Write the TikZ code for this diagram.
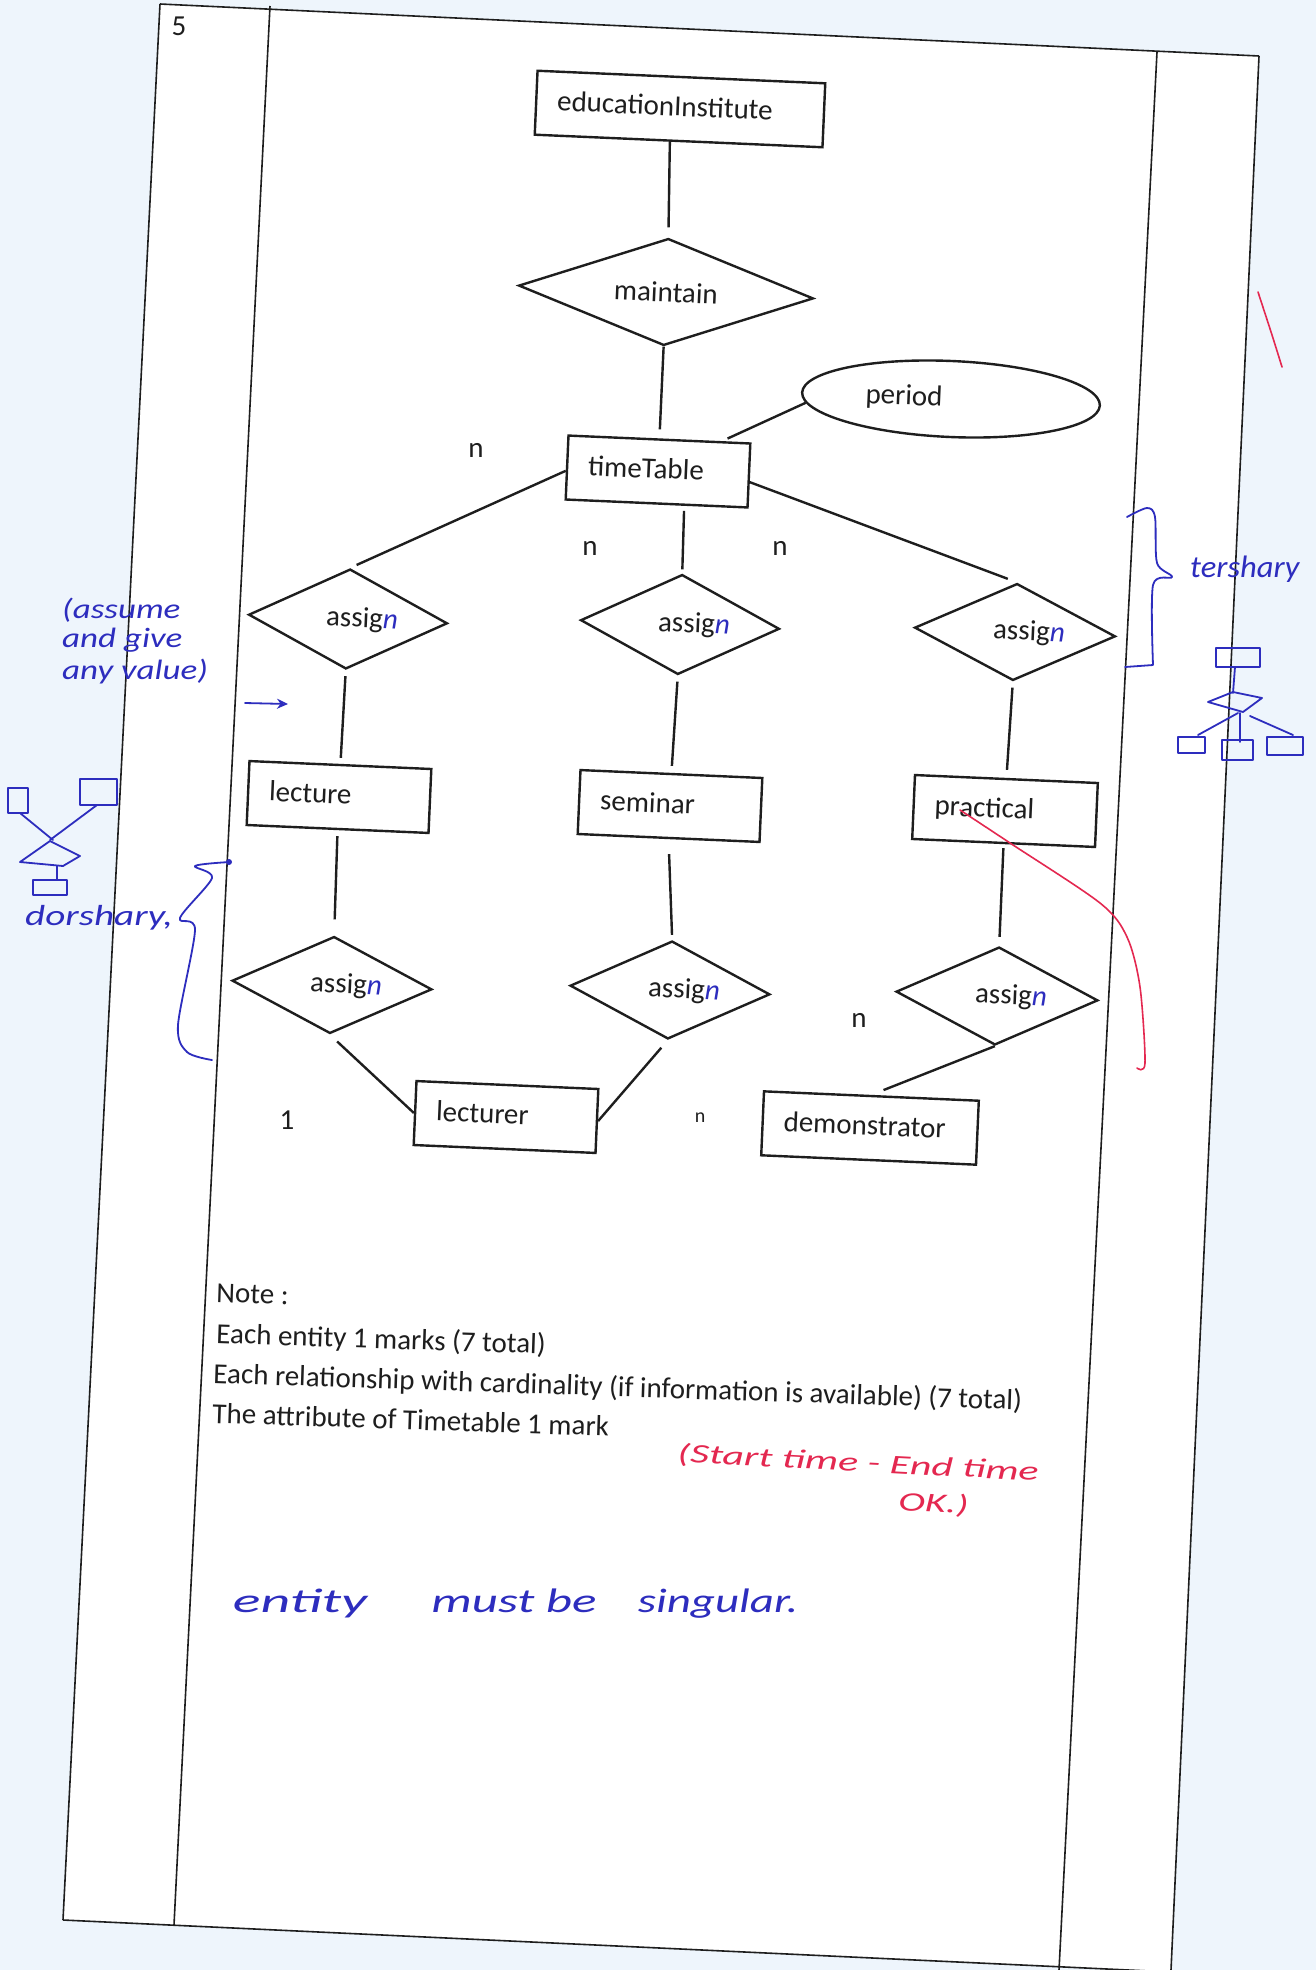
\documentclass[tikz,border=0pt]{standalone}
\usepackage{fontspec}
\usepackage{graphicx}
\setmainfont{Carlito}
\usetikzlibrary{shapes.geometric,calc,arrows.meta}
\definecolor{ink}{RGB}{30,30,30}
\definecolor{pen}{RGB}{45,45,190}
\definecolor{redpen}{RGB}{228,40,80}
\definecolor{paper}{RGB}{238,245,252}
\newcommand{\wide}[2]{\scalebox{#1}[1]{#2}}
\begin{document}
\begin{tikzpicture}[x=1pt,y=-1pt,
  every node/.style={font=\fontsize{29}{34}\selectfont, text=ink},
  entity/.style={draw=ink, line width=2.4pt, rotate=-2.5, inner xsep=21pt, inner ysep=0pt,
    minimum height=64pt, align=left, text height=20pt, text depth=6pt},
  reln/.style={draw=ink, line width=2.4pt, diamond, aspect=2, inner sep=0pt, rotate=-2.5},
  attr/.style={draw=ink, line width=2.4pt, ellipse, inner sep=0pt, rotate=-2.5},
  link/.style={draw=ink, line width=2.4pt},
  card/.style={inner sep=0pt},
  notetext/.style={anchor=base west, inner sep=0pt, rotate=-1.9},
  hand/.style={text=pen, font=\fontsize{27}{30}\selectfont\itshape, inner sep=0pt},
  redhand/.style={text=redpen, font=\fontsize{27}{30}\selectfont\itshape, inner sep=0pt, rotate=-3},
  pagerule/.style={draw=ink, line width=1.6pt},
  sketch/.style={draw=pen, line width=1.8pt, line cap=round, line join=round},
  redsketch/.style={draw=redpen, line width=1.6pt, line cap=round},
]
\useasboundingbox (0,0) rectangle (1316,1970);
\fill[paper] (0,0) rectangle (1316,1970);
\fill[white] (160,4) -- (1259,56) -- (1171,1972) -- (63,1920) -- cycle;

% page frame
\draw[pagerule] (160,4) -- (1259,56);
\draw[pagerule] (160,4) -- (63,1920);
\draw[pagerule] (270,6) -- (174,1925);
\draw[pagerule] (1157,52) -- (1059,1970);
\draw[pagerule] (1259,56) -- (1171,1970);
\draw[pagerule] (63,1920) -- (1171,1972);
\node[card] (qno) at (179,26) {5};

% entities, relationships, attribute
\node[entity, text width=246pt] (edu) at (680,109) {educationInstitute};
\node[reln, minimum width=295pt, minimum height=107pt] (maint) at (666,292) {maintain};
\node[attr, minimum width=298pt, minimum height=76pt] (period) at (951,399) {period\hspace*{94pt}};
\node[entity, text width=140pt] (tt) at (658,471.5) {timeTable};

\node[reln, minimum width=199pt, minimum height=100pt] (a1) at (348,619) {\hspace*{28pt}assig\textcolor{pen}{\textit{n}}};
\node[reln, minimum width=199pt, minimum height=100pt] (a2) at (680,624.5) {\hspace*{28pt}assig\textcolor{pen}{\textit{n}}};
\node[reln, minimum width=201pt, minimum height=97pt] (a3) at (1015,632) {\hspace*{28pt}assig\textcolor{pen}{\textit{n}}};

\node[entity, text width=140pt] (lec) at (339,797) {lecture};
\node[entity, text width=140pt] (sem) at (670,806) {seminar};
\node[entity, text width=141pt] (prac) at (1005,811) {practical};

\node[reln, minimum width=200pt, minimum height=97pt] (b1) at (332,985) {\hspace*{28pt}assig\textcolor{pen}{\textit{n}}};
\node[reln, minimum width=200pt, minimum height=98pt] (b2) at (670,990) {\hspace*{28pt}assig\textcolor{pen}{\textit{n}}};
\node[reln, minimum width=202pt, minimum height=98pt] (b3) at (997,996) {\hspace*{28pt}assig\textcolor{pen}{\textit{n}}};

\node[entity, text width=140pt] (lr) at (506,1117) {lecturer};
\node[entity, text width=173pt] (dem) at (870,1128) {demonstrator};

% connectors
\draw[link, shorten >=10pt] ($(edu.south west)!0.47!(edu.south east)$) -- (maint.north);
\draw[link, shorten >=9pt] (maint.south) -- (tt.north);
\draw[link, shorten >=6pt] (period.184) -- ($(tt.north west)!0.84!(tt.north east)$);
\draw[link, shorten >=7pt] ($(tt.north west)!0.55!(tt.south west)$) -- (a1.north);
\draw[link, shorten <=5pt, shorten >=4pt] ($(tt.south west)!0.65!(tt.south east)$) -- (a2.north);
\draw[link, shorten >=10pt] ($(tt.north east)!0.6!(tt.south east)$) -- (a3.north);
\draw[link, shorten <=6pt, shorten >=6pt] (a1.south) -- (lec.north);
\draw[link, shorten <=6pt, shorten >=7pt] (a2.south) -- (sem.north);
\draw[link, shorten <=6pt, shorten >=8pt] (a3.south) -- (prac.north);
\draw[link, shorten <=6pt, shorten >=16pt] (lec.south) -- (b1.north);
\draw[link, shorten <=15pt, shorten >=5pt] (sem.south) -- (b2.north);
\draw[link, shorten <=4pt, shorten >=9pt] (prac.south) -- (b3.north);
\draw[link, shorten <=10pt] (b1.south) -- (lr.west);
\draw[link, shorten <=10pt] (b2.south) -- (lr.east);
\draw[link, shorten >=13pt] (b3.south) -- (dem.north);

% cardinalities
\node[card] (n1) at (476,450) {n};
\node[card] (n2) at (590,548) {n};
\node[card] (n3) at (780,548) {n};
\node[card] (c1) at (287,1120) {1};
\node[card, font=\fontsize{20}{24}\selectfont] (n4) at (700,1118) {n};
\node[card] (n5) at (859,1020) {n};

% note
\node[notetext] (note0) at (216,1302) {Note :};
\node[notetext] (note1) at (216,1343) {Each entity 1 marks (7 total)};
\node[notetext] (note2) at (213,1383) {Each relationship with cardinality (if information is available) (7 total)};
\node[notetext] (note3) at (212,1423) {The attribute of Timetable 1 mark};

% red handwriting
\node[redhand, anchor=base west] (rh1) at (677,1462) {\wide{1.55}{(Start time - End time}};
\node[redhand, anchor=base west] (rh2) at (898,1510) {\wide{1.5}{OK.)}};
\draw[redsketch] plot[smooth] coordinates {(960,810) (1010,843) (1100,903) (1127,937) (1140,987) (1145,1063) (1137,1068)};
\draw[redsketch] plot[smooth] coordinates {(1258,292) (1272,335) (1282,367)};

% blue handwriting
\node[hand, font=\fontsize{34}{40}\selectfont\itshape, anchor=base] (bh1) at (300,1612) {\wide{1.7}{entity}};
\node[hand, font=\fontsize{34}{40}\selectfont\itshape, anchor=base] (bh2) at (514,1612) {\wide{1.5}{must be}};
\node[hand, font=\fontsize{34}{40}\selectfont\itshape, anchor=base] (bh3) at (718,1612) {\wide{1.38}{singular.}};

\node[hand, anchor=north west, align=left, font=\fontsize{28}{29}\selectfont\itshape] (lh1) at (62,598) {\wide{1.25}{(assume}\\\wide{1.25}{and give}\\[3pt]\wide{1.25}{any value)}};
\node[hand, anchor=base west, font=\fontsize{29}{34}\selectfont\itshape] (lh2) at (25,925) {\wide{1.35}{dorshary,}};
\node[hand, anchor=base west, font=\fontsize{31}{36}\selectfont\itshape] (rh3) at (1190,577) {\wide{1.05}{tershary}};

\draw[sketch, -{Stealth[length=11pt,width=10pt,open]}] (245,703) -- (288,704);
% left brace
\draw[sketch] plot[smooth] coordinates {(230,862) (195,866) (212,878) (180,918) (195,930) (178,1025) (187,1052) (212,1060)};
\fill[pen] (229,862) circle (3pt);
% right bracket
\draw[sketch] plot[smooth] coordinates {(1127,517) (1147,508) (1155,517) (1157,563) (1172,577) (1153,585) (1153,665)} -- (1125,667);

% left small sketch
\draw[sketch] (8,788) rectangle (28,813);
\draw[sketch] (80,779) rectangle (117,805);
\draw[sketch] (20,813) -- (53,840);
\draw[sketch] (97,805) -- (50,840);
\draw[sketch] (50,841) -- (80,856) -- (63,866) -- (20,862) -- cycle;
\draw[sketch] (57,866) -- (57,880);
\draw[sketch] (33,880) rectangle (67,895);

% right small sketch
\draw[sketch] (1216,648) rectangle (1260,667);
\draw[sketch] (1235,667) -- (1233,693);
\draw[sketch] (1208,702) -- (1233,692) -- (1262,698) -- (1243,712) -- cycle;
\draw[sketch] (1238,713) -- (1198,735);
\draw[sketch] (1240,713) -- (1240,742);
\draw[sketch] (1250,716) -- (1293,735);
\draw[sketch] (1178,737) rectangle (1205,753);
\draw[sketch] (1222,740) rectangle (1253,760);
\draw[sketch] (1267,737) rectangle (1303,755);
\end{tikzpicture}
\end{document}
